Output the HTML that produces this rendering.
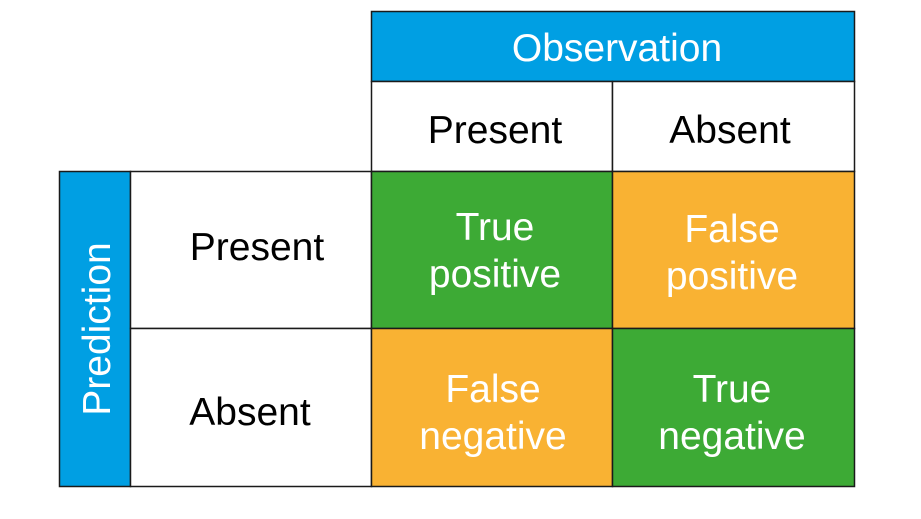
<!DOCTYPE html>
<html><head><style>body{margin:0;background:#fff}</style></head><body>
<svg width="921" height="514" xmlns="http://www.w3.org/2000/svg" font-family="Liberation Sans, sans-serif" font-size="39" text-anchor="middle">
<g stroke="#1a1a1a" stroke-width="1.5">
<rect x="371.5" y="11.5" width="483" height="70" fill="#009FE3"/>
<rect x="371.5" y="81.5" width="241" height="90" fill="#fff"/>
<rect x="612.5" y="81.5" width="242" height="90" fill="#fff"/>
<rect x="59.5" y="171.5" width="71" height="315" fill="#009FE3"/>
<rect x="130.5" y="171.5" width="241" height="157" fill="#fff"/>
<rect x="130.5" y="328.5" width="241" height="158" fill="#fff"/>
<rect x="371.5" y="171.5" width="241" height="157" fill="#3DAA35"/>
<rect x="612.5" y="171.5" width="242" height="157" fill="#F9B233"/>
<rect x="371.5" y="328.5" width="241" height="158" fill="#F9B233"/>
<rect x="612.5" y="328.5" width="242" height="158" fill="#3DAA35"/>
</g>
<text x="617" y="61" fill="#fff">Observation</text>
<text x="495" y="143">Present</text>
<text x="730" y="143">Absent</text>
<text x="257" y="260">Present</text>
<text x="250" y="425">Absent</text>
<text transform="translate(110,329) rotate(-90)" fill="#fff">Prediction</text>
<g fill="#fff">
<text x="495" y="240">True</text><text x="495" y="287">positive</text>
<text x="732" y="242">False</text><text x="732" y="289">positive</text>
<text x="493" y="402">False</text><text x="493" y="449">negative</text>
<text x="732" y="402">True</text><text x="732" y="449">negative</text>
</g>
</svg>
</body></html>
